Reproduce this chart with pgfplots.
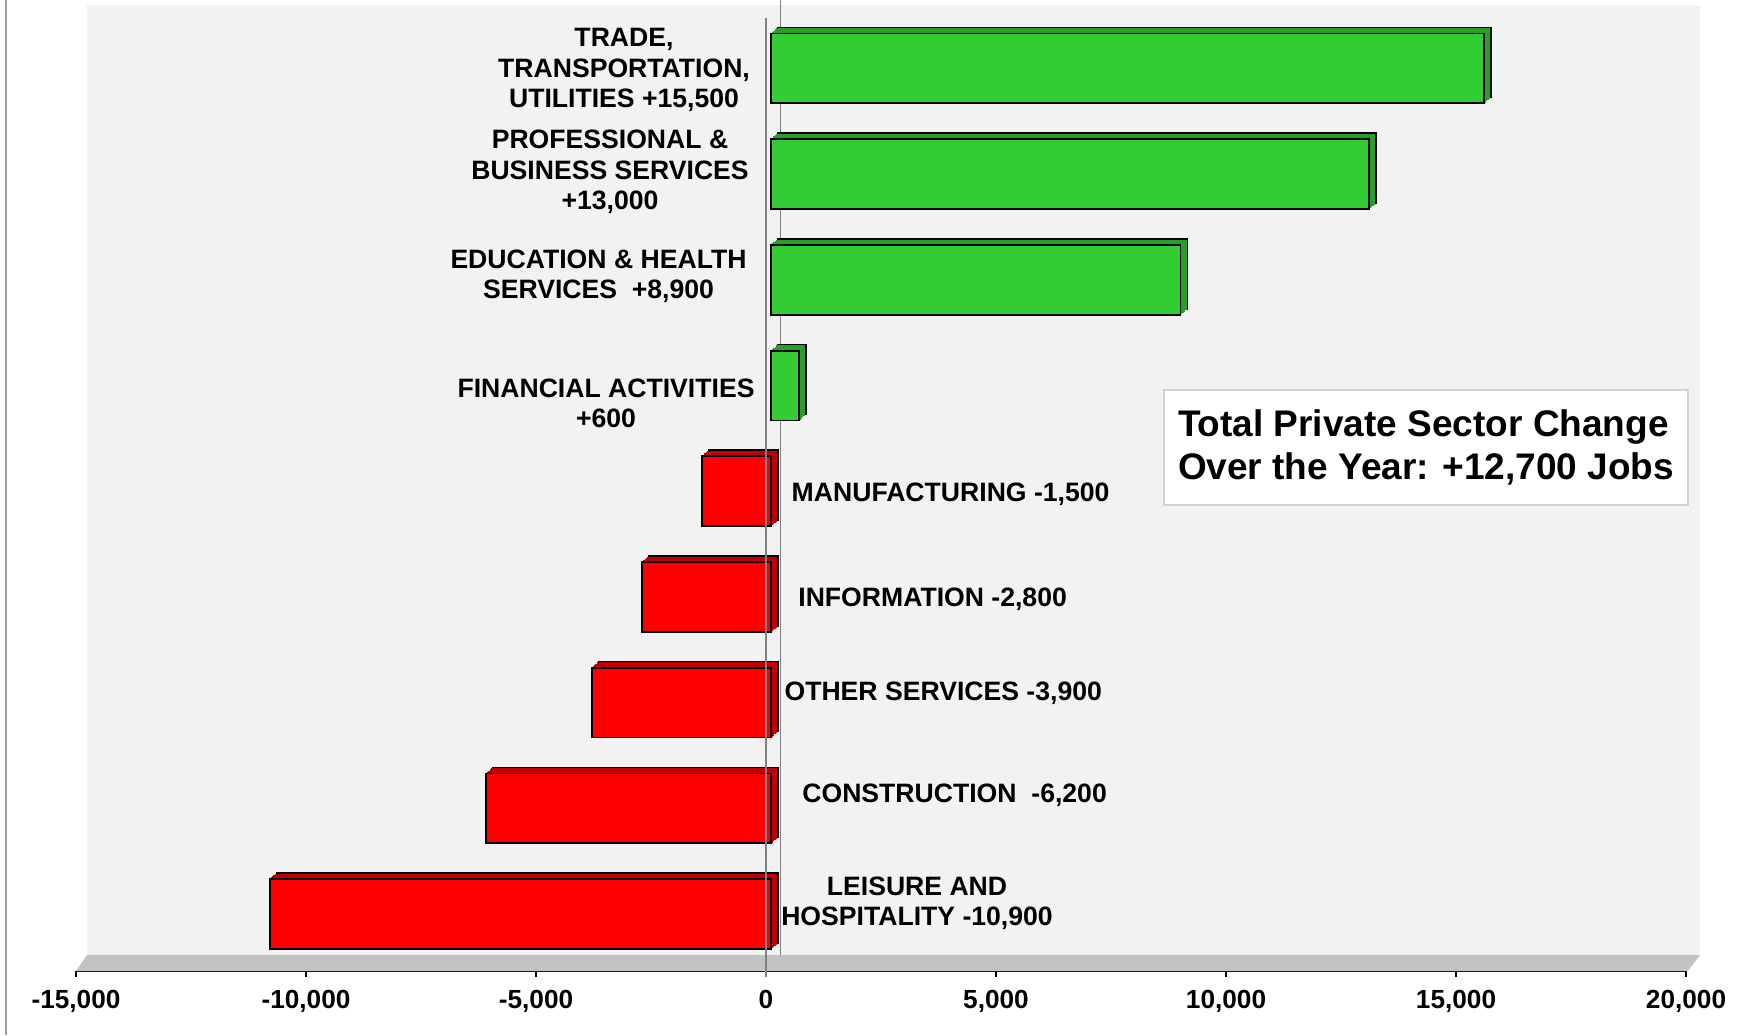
\documentclass[border=0pt]{standalone}
\usepackage{fontspec}
\setmainfont{Liberation Sans}
\usepackage{pgfplots}
\pgfplotsset{compat=1.18}

\definecolor{barGreen}{HTML}{33CC33}
\definecolor{barGreenDark}{HTML}{28A028}
\definecolor{barRed}{HTML}{FF0000}
\definecolor{barRedDark}{HTML}{C00000}
\definecolor{wall}{HTML}{F2F2F2}
\definecolor{floorgray}{HTML}{C2C2C2}
\definecolor{zeroline}{HTML}{808080}

\tikzset{lbl/.style={font=\fontsize{13.3}{15.2}\selectfont\bfseries, align=center, anchor=center}}

\begin{document}
\begin{tikzpicture}
\begin{axis}[
    name=ax,
    scale only axis, width=805pt, height=483pt,
    xmin=-15000, xmax=20000, ymin=0.461, ymax=9.6,
    enlargelimits=false, clip=false,
    axis x line=bottom, axis y line=none,
    x axis line style={-, black, line width=1pt},
    xtick={-15000,-10000,-5000,0,5000,10000,15000,20000},
    xticklabels={{-15,000},{-10,000},{-5,000},{0},{5,000},{10,000},{15,000},{20,000}},
    scaled x ticks=false,
    xtick align=outside, major tick length=3pt,
    tick style={black, line width=0.6pt},
    xticklabel style={font=\fontsize{13.1}{15}\selectfont\bfseries, yshift=-3pt},
    ytick=\empty,
    bar width=0.66,
]

% back wall, floor and the rear zero line
\fill[wall] (axis cs:-14761,0.612) rectangle (axis cs:20304,9.6);
\fill[floorgray] (axis cs:-15000,0.461) -- (axis cs:20040,0.461)
    -- (axis cs:20304,0.612) -- (axis cs:-14761,0.612) -- cycle;
\draw[zeroline, line width=0.75pt] (axis cs:320,0.612) -- (axis cs:320,9.65);

% gains: back face with outline, extrusion steps, then front face
\addplot[xbar, bar shift=0pt, fill=barGreenDark, draw=black, line width=0.9pt, xshift=6pt, yshift=3pt]
    coordinates {(15500,9) (13000,8) (8900,7) (600,6)};
\pgfplotsinvokeforeach{4,3,2,1}{
\addplot[xbar, bar shift=0pt, fill=barGreenDark, draw=barGreenDark, line width=0.5pt,
         xshift={2.5pt+0.7pt*#1}, yshift={0.6pt*#1}]
    coordinates {(15500,9) (13000,8) (8900,7) (600,6)};
}
\addplot[xbar, bar shift=0pt, fill=barGreen, draw=black, line width=0.9pt, xshift=2.5pt]
    coordinates {(15500,9) (13000,8) (8900,7) (600,6)};

% losses
\addplot[xbar, bar shift=0pt, fill=barRedDark, draw=black, line width=0.9pt, xshift=6pt, yshift=3pt]
    coordinates {(-1500,5) (-2800,4) (-3900,3) (-6200,2) (-10900,1)};
\pgfplotsinvokeforeach{4,3,2,1}{
\addplot[xbar, bar shift=0pt, fill=barRedDark, draw=barRedDark, line width=0.5pt,
         xshift={2.5pt+0.7pt*#1}, yshift={0.6pt*#1}]
    coordinates {(-1500,5) (-2800,4) (-3900,3) (-6200,2) (-10900,1)};
}
\addplot[xbar, bar shift=0pt, fill=barRed, draw=black, line width=0.9pt, xshift=2.5pt]
    coordinates {(-1500,5) (-2800,4) (-3900,3) (-6200,2) (-10900,1)};

% front zero line
\draw[zeroline, line width=0.75pt] (axis cs:0,0.404) -- (axis cs:0,9.477);

% sector labels
\node[lbl] at (axis cs:-3087,8.985) {TRADE,\\TRANSPORTATION,\\UTILITIES +15,500};
\node[lbl] at (axis cs:-3391,8.02) {PROFESSIONAL \&\\BUSINESS SERVICES\\+13,000};
\node[lbl] at (axis cs:-3641,7.035) {EDUCATION \& HEALTH\\SERVICES\ \ +8,900};
\node[lbl] at (axis cs:-3478,5.834) {FINANCIAL ACTIVITIES\\+600};
\node[lbl] at (axis cs:4013,4.974) {MANUFACTURING -1,500};
\node[lbl] at (axis cs:3622,3.974) {INFORMATION -2,800};
\node[lbl] at (axis cs:3853,3.09) {OTHER SERVICES -3,900};
\node[lbl] at (axis cs:4100,2.122) {CONSTRUCTION\ \ -6,200};
\node[lbl] at (axis cs:3283,1.104) {LEISURE AND\\HOSPITALITY -10,900};

% total box
\node[draw=gray!35, fill=white, line width=0.6pt, align=left,
      font=\fontsize{18.5}{21.4}\selectfont\bfseries,
      inner xsep=7pt, minimum width=262pt, minimum height=57.5pt]
    at (axis cs:14348,5.414) {Total Private Sector Change\\Over the Year: +12,700 Jobs};
\end{axis}

\pgfresetboundingbox
\path[use as bounding box] ([xshift=-38pt,yshift=-32pt]ax.south west) rectangle ++(882pt,517.5pt);
\draw[gray!75, line width=1pt] ([xshift=-35pt,yshift=-32pt]ax.south west) -- ++(0,517.5pt);
\end{tikzpicture}
\end{document}
